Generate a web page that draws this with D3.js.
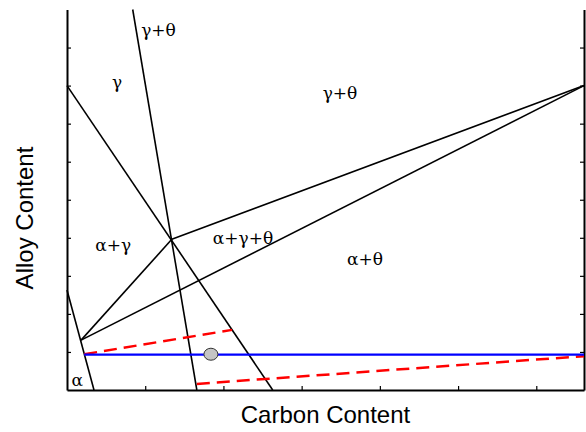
<!DOCTYPE html>
<html>
<head>
<meta charset="utf-8">
<script src="https://cdn.jsdelivr.net/npm/d3@7"></script>
<style>
  body { margin: 0; background: #fff; }
  svg { display: block; }
</style>
</head>
<body>
<svg id="theSvg"></svg>
<script>
// phase boundaries, in (carbon, alloy) units
const gammaTheta = [[0.84, 10], [1.66, 0]];
const alphaGamma = [[0, 8], [2.63, 0]];
const upperTie = [[1.34, 3.96], [6.61, 8]];
const lowerTie = [[0.18, 1.31], [6.61, 8]];
const cornerTie = [[0.18, 1.31], [1.34, 3.96]];
const alphaEdge = [[0, 2.63], [0.345, 0]];
const redUpper = [[0.22, 0.94], [2.11, 1.58]];
const redLower = [[1.66, 0.16], [6.61, 0.89]];
const blueLine = [[0.22, 0.93], [6.61, 0.93]];
const alloyPoint = [1.84, 0.94];

const phaseLabels = ["γ+θ", "γ", "γ+θ", "α+γ", "α+γ+θ", "α+θ", "α"];
const labelX = [1.17, 0.64, 3.49, 0.59, 2.25, 3.81, 0.13];
const labelY = [9.45, 8.1, 7.8, 3.8, 4.0, 3.45, 0.27];

const xTicks = [1, 2, 3, 4, 5, 6];
const yTicks = [1, 2, 3, 4, 5, 6, 7, 8, 9];

const width = 586, height = 432;
const margin = {top: 9.5, right: 2, bottom: 42, left: 67};
const serif = "'DejaVu Serif', serif";
const sans = "Arial, 'Liberation Sans', sans-serif";

const svg = d3.select("#theSvg")
  .attr("width", width)
  .attr("height", height)
  .attr("viewBox", [0, 0, width, height]);

const x = d3.scaleLinear()
  .domain([0, 6.61])
  .range([margin.left, width - margin.right]);

const y = d3.scaleLinear()
  .domain([0, 10])
  .range([height - margin.bottom, margin.top]);

const line = d3.line()
  .x(d => x(d[0]))
  .y(d => y(d[1]));

// axes, ticks pointing inwards
const axisStyle = g => {
  g.select(".domain").attr("stroke", "#000").attr("stroke-width", 2);
  g.selectAll(".tick line").attr("stroke", "#000").attr("stroke-width", 1.2);
  g.selectAll(".tick text").remove();
};

svg.append("g")
  .attr("transform", "translate(0," + y(0) + ")")
  .call(d3.axisBottom(x).tickValues(xTicks).tickSizeInner(-4).tickSizeOuter(0))
  .call(axisStyle);

svg.append("g")
  .attr("transform", "translate(" + x(0) + ",0)")
  .call(d3.axisLeft(y).tickValues(yTicks).tickSizeInner(-4).tickSizeOuter(0))
  .call(axisStyle);

svg.append("g")
  .attr("transform", "translate(" + x(6.61) + ",0)")
  .call(d3.axisRight(y).tickValues(yTicks).tickSizeInner(-4).tickSizeOuter(0))
  .call(axisStyle);

// phase boundaries
const boundaries = svg.append("g")
  .attr("fill", "none")
  .attr("stroke", "#000")
  .attr("stroke-width", 1.6);

[gammaTheta, alphaGamma, upperTie, lowerTie, cornerTie, alphaEdge].forEach(function(b){
  boundaries.append("path").attr("d", line(b));
});

// dashed tie lines
[redUpper, redLower].forEach(function(b){
  svg.append("path")
    .attr("d", line(b))
    .attr("fill", "none")
    .attr("stroke", "#ff0000")
    .attr("stroke-width", 2.5)
    .attr("stroke-dasharray", "13,7");
});

svg.append("path")
  .attr("d", line(blueLine))
  .attr("fill", "none")
  .attr("stroke", "#0000ff")
  .attr("stroke-width", 2.2);

svg.append("ellipse")
  .attr("cx", x(alloyPoint[0]))
  .attr("cy", y(alloyPoint[1]))
  .attr("rx", 7)
  .attr("ry", 6)
  .attr("fill", "#c4c4c4")
  .attr("stroke", "#333")
  .attr("stroke-width", 1);

// phase labels
svg.append("g")
  .attr("font-family", serif)
  .attr("font-size", 17)
  .selectAll("text")
  .data(phaseLabels)
  .join("text")
    .attr("x", (d, i) => x(labelX[i]))
    .attr("y", (d, i) => y(labelY[i]))
    .attr("text-anchor", "middle")
    .attr("dominant-baseline", "central")
    .text(d => d);

// axis titles
svg.append("text")
  .attr("x", (x(0) + x(6.61)) / 2)
  .attr("y", 423)
  .attr("text-anchor", "middle")
  .attr("font-family", sans)
  .attr("font-size", 24)
  .text("Carbon Content");

svg.append("text")
  .attr("transform", "translate(33,218) rotate(-90)")
  .attr("text-anchor", "middle")
  .attr("font-family", sans)
  .attr("font-size", 24)
  .text("Alloy Content");
</script>
</body>
</html>
